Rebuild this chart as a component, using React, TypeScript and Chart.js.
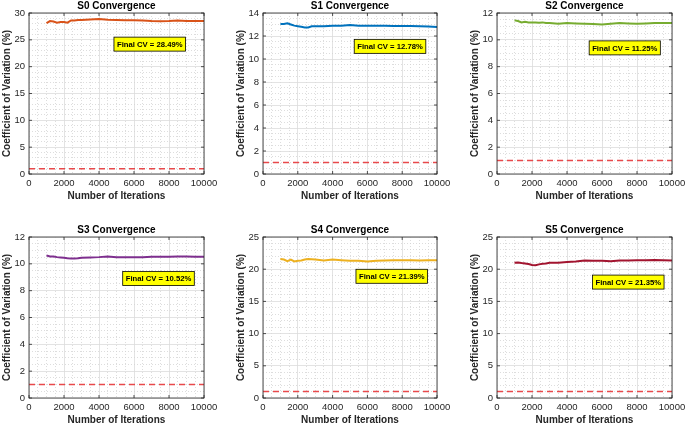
import React, { useEffect, useRef } from 'react';
import { Chart, registerables } from 'chart.js';

Chart.register(...registerables);

// ---------------- data ----------------
const iterations = [1000, 1200, 1400, 1600, 1800, 2000, 2200, 2400, 2600, 2800, 3000, 3500, 4000, 4500, 5000, 5500, 6000, 6500, 7000, 7500, 8000, 8500, 9000, 9500, 10000];

const s0Cv = [28.1, 28.5, 28.4, 28.2, 28.3, 28.3, 28.2, 28.6, 28.6, 28.7, 28.7, 28.8, 28.9, 28.75, 28.7, 28.65, 28.65, 28.6, 28.5, 28.45, 28.5, 28.6, 28.5, 28.5, 28.49];
const s1Cv = [13.05, 13.05, 13.1, 13.0, 12.9, 12.85, 12.8, 12.75, 12.75, 12.85, 12.85, 12.85, 12.9, 12.9, 12.95, 12.9, 12.9, 12.9, 12.9, 12.88, 12.87, 12.86, 12.85, 12.82, 12.78];
const s2Cv = [11.45, 11.4, 11.3, 11.35, 11.3, 11.3, 11.3, 11.28, 11.3, 11.25, 11.25, 11.2, 11.25, 11.22, 11.2, 11.18, 11.15, 11.2, 11.25, 11.22, 11.2, 11.22, 11.25, 11.25, 11.25];
const s3Cv = [10.62, 10.55, 10.55, 10.5, 10.48, 10.45, 10.42, 10.4, 10.4, 10.42, 10.45, 10.48, 10.5, 10.55, 10.5, 10.5, 10.5, 10.5, 10.52, 10.52, 10.53, 10.55, 10.55, 10.53, 10.52];
const s4Cv = [21.6, 21.5, 21.25, 21.5, 21.2, 21.3, 21.35, 21.5, 21.6, 21.55, 21.5, 21.35, 21.5, 21.4, 21.3, 21.3, 21.2, 21.3, 21.35, 21.38, 21.4, 21.38, 21.35, 21.38, 21.39];
const s5Cv = [21.0, 21.05, 20.95, 20.9, 20.8, 20.65, 20.6, 20.75, 20.85, 20.9, 21.0, 21.0, 21.1, 21.2, 21.35, 21.3, 21.3, 21.25, 21.35, 21.35, 21.4, 21.4, 21.42, 21.4, 21.35];

const seriesValues = [s0Cv, s1Cv, s2Cv, s3Cv, s4Cv, s5Cv];
const panelTitles = ['S0 Convergence', 'S1 Convergence', 'S2 Convergence', 'S3 Convergence', 'S4 Convergence', 'S5 Convergence'];
const finalCv = [28.49, 12.78, 11.25, 10.52, 21.39, 21.35];
const thresholdValue = 1;
const thresholdRange = [0, 10000];

const yMaxValues = [30, 14, 12, 12, 25, 25];
const yMajorSteps = [5, 2, 2, 2, 5, 5];
const yMinorSteps = [1, 0.5, 0.5, 0.5, 1, 1];
const xMax = 10000;
const xMajorStep = 2000;
const xMinorStep = 500;

const xAxisTitle = 'Number of Iterations';
const yAxisTitle = 'Coefficient of Variation (%)';

// ---------------- styles / layout ----------------
const seriesColors = ['#D95319', '#0072BD', '#77AC30', '#7E2F8E', '#EDB120', '#A2142F'];
const labelAnchorX = [6900, 7300, 7300, 7400, 7400, 7500];
const labelAnchorY = [24.2, 11.1, 9.4, 8.9, 18.9, 18.0];

const colLeft = [0, 230, 460];
const colWidth = [229, 229, 225];
const yAxisWidth = [29, 33, 37];
const rightPad = [25, 22, 13];
const yTitlePad = [1, 5, 9];
const rowTop = [0, 224];
const canvasHeight = 203;
const xAxisHeight = 29;

const FONT = '"Liberation Sans", Arial, Helvetica, sans-serif';
const AXIS_COLOR = '#262626';

const isMajor = (v: number, step: number) => {
  const r = v / step;
  return Math.abs(r - Math.round(r)) < 1e-6;
};

const boxPlugin = {
  id: 'matlabBox',
  afterDraw(chart: any, _args: any, opts: any) {
    const { ctx, chartArea } = chart;
    const { left, right, top, bottom } = chartArea;
    const xs = chart.scales.x;
    const ys = chart.scales.y;
    ctx.save();
    ctx.strokeStyle = AXIS_COLOR;
    ctx.lineWidth = 0.8;
    ctx.setLineDash([]);
    ctx.strokeRect(left, top, right - left, bottom - top);
    // inward major tick marks
    ctx.beginPath();
    for (let v = 0; v <= xMax + 1e-6; v += xMajorStep) {
      const px = xs.getPixelForValue(v);
      ctx.moveTo(px, bottom);
      ctx.lineTo(px, bottom - 3);
      ctx.moveTo(px, top);
      ctx.lineTo(px, top + 3);
    }
    for (let v = 0; v <= opts.yMax + 1e-6; v += opts.yMajor) {
      const py = ys.getPixelForValue(v);
      ctx.moveTo(left, py);
      ctx.lineTo(left + 3, py);
      ctx.moveTo(right, py);
      ctx.lineTo(right - 3, py);
    }
    ctx.stroke();

    // annotation box
    const cx = xs.getPixelForValue(opts.labelX);
    const cy = ys.getPixelForValue(opts.labelY);
    ctx.font = `bold 7.7px ${FONT}`;
    const tw = ctx.measureText(opts.label).width;
    const w = tw + 6;
    const h = 14;
    ctx.fillStyle = '#FFFF00';
    ctx.fillRect(cx - w / 2, cy - h / 2, w, h);
    ctx.strokeStyle = '#000000';
    ctx.lineWidth = 0.8;
    ctx.strokeRect(cx - w / 2, cy - h / 2, w, h);
    ctx.fillStyle = '#000000';
    ctx.textAlign = 'center';
    ctx.textBaseline = 'middle';
    ctx.fillText(opts.label, cx, cy + 0.5);
    ctx.restore();
  },
};

function buildConfig(i: number): any {
  const col = i % 3;
  const yMax = yMaxValues[i];
  const yMajor = yMajorSteps[i];
  const yMinor = yMinorSteps[i];
  const gridColor = (step: number) => (c: any) =>
    c.tick && isMajor(c.tick.value, step) ? '#DCDCDC' : '#D4D4D4';
  const gridDash = (step: number) => (c: any) =>
    c.tick && !isMajor(c.tick.value, step) ? [1, 2] : [];

  return {
    type: 'line',
    data: {
      datasets: [
        {
          data: iterations.map((x, k) => ({ x, y: seriesValues[i][k] })),
          borderColor: seriesColors[i],
          borderWidth: 2,
          pointRadius: 0,
          tension: 0,
          fill: false,
        },
        {
          data: thresholdRange.map((x) => ({ x, y: thresholdValue })),
          borderColor: '#E8494B',
          borderWidth: 1.5,
          borderDash: [6, 4],
          pointRadius: 0,
          fill: false,
        },
      ],
    },
    options: {
      animation: false,
      responsive: true,
      maintainAspectRatio: false,
      events: [],
      layout: { padding: { left: 0, right: rightPad[col], top: 0, bottom: 0 } },
      plugins: {
        legend: { display: false },
        tooltip: { enabled: false },
        title: {
          display: true,
          text: panelTitles[i],
          fullSize: false,
          color: '#000000',
          font: { family: FONT, size: 10, weight: 'bold', lineHeight: 1.3 },
          padding: { top: 0, bottom: 0 },
        },
        matlabBox: {
          yMax,
          yMajor,
          labelX: labelAnchorX[i],
          labelY: labelAnchorY[i],
          label: `Final CV = ${finalCv[i].toFixed(2)}%`,
        },
      },
      scales: {
        x: {
          type: 'linear',
          min: 0,
          max: xMax,
          afterFit(scale: any) {
            scale.height = xAxisHeight;
            scale.paddingLeft = 0;
            scale.paddingRight = 0;
          },
          ticks: {
            stepSize: xMinorStep,
            maxTicksLimit: 1000,
            autoSkip: false,
            maxRotation: 0,
            minRotation: 0,
            padding: 4,
            color: AXIS_COLOR,
            font: { family: FONT, size: 9.5 },
            callback: (v: number) => (isMajor(v, xMajorStep) ? String(v) : ''),
          },
          grid: { drawTicks: false, color: gridColor(xMajorStep), lineWidth: 0.8 },
          border: { display: false, dash: gridDash(xMajorStep) },
          title: {
            display: true,
            text: xAxisTitle,
            color: AXIS_COLOR,
            font: { family: FONT, size: 10, weight: 'bold', lineHeight: 1.3 },
            padding: { top: 0, bottom: 0 },
          },
        },
        y: {
          type: 'linear',
          min: 0,
          max: yMax,
          afterFit(scale: any) {
            scale.width = yAxisWidth[col];
            scale.paddingTop = 0;
            scale.paddingBottom = 0;
          },
          ticks: {
            stepSize: yMinor,
            maxTicksLimit: 1000,
            autoSkip: false,
            padding: 4,
            color: AXIS_COLOR,
            font: { family: FONT, size: 9.5 },
            callback: (v: number) => (isMajor(v, yMajor) ? String(Math.round(v)) : ''),
          },
          grid: { drawTicks: false, color: gridColor(yMajor), lineWidth: 0.8 },
          border: { display: false, dash: gridDash(yMajor) },
          title: {
            display: true,
            text: yAxisTitle,
            color: AXIS_COLOR,
            font: { family: FONT, size: 10, weight: 'bold', lineHeight: 1.3 },
            padding: { top: yTitlePad[col], bottom: 0 },
          },
        },
      },
    },
    plugins: [boxPlugin],
  };
}

function Panel({ index }: { index: number }) {
  const ref = useRef<HTMLCanvasElement | null>(null);
  useEffect(() => {
    if (!ref.current) return;
    const chart = new Chart(ref.current, buildConfig(index));
    return () => chart.destroy();
  }, [index]);
  const col = index % 3;
  const row = Math.floor(index / 3);
  return (
    <div
      style={{
        position: 'absolute',
        left: colLeft[col],
        top: rowTop[row],
        width: colWidth[col],
        height: canvasHeight,
      }}
    >
      <canvas ref={ref} />
    </div>
  );
}

export default function App() {
  return (
    <div
      style={{
        position: 'absolute',
        left: 0,
        top: 0,
        width: 685,
        height: 427,
        overflow: 'hidden',
        background: '#ffffff',
      }}
    >
      {[0, 1, 2, 3, 4, 5].map((i) => (
        <Panel key={i} index={i} />
      ))}
    </div>
  );
}
